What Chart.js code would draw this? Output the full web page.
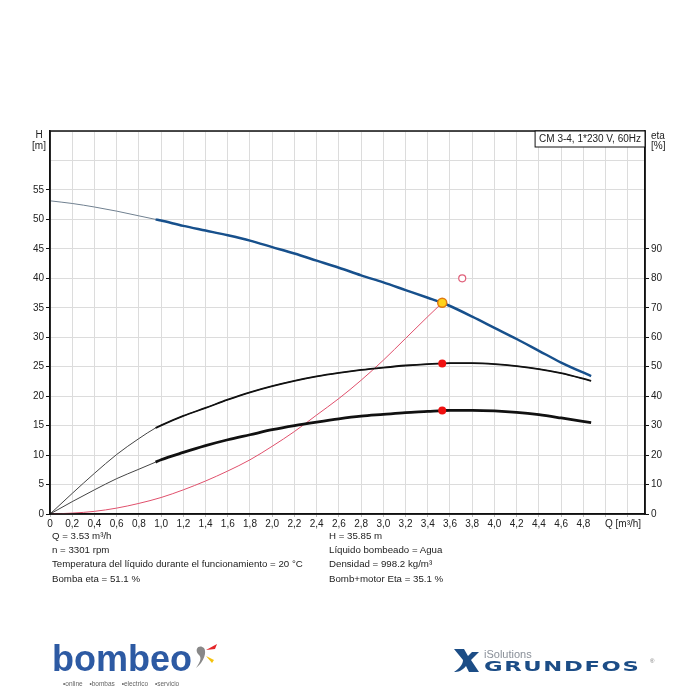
<!DOCTYPE html>
<html>
<head>
<meta charset="utf-8">
<script src="https://cdn.jsdelivr.net/npm/chart.js@4/dist/chart.umd.min.js"></script>
<style>
  body { margin: 0; background: #fff; font-family: "Liberation Sans", Arial, sans-serif; }
  #wrap { position: relative; width: 700px; height: 700px; }
  #chart { position: absolute; left: 0; top: 0; }
  .info { position: absolute; top: 529px; font-size: 9.7px; line-height: 14.2px; color: #222; white-space: nowrap; }
  .bombeo { position: absolute; left: 52px; top: 638px; font-size: 36px; font-weight: bold; color: #2d5aa3; letter-spacing: 0px; }
  .tag { position: absolute; left: 63px; top: 680px; font-size: 6.5px; color: #666; word-spacing: 5px; }
  .isol { position: absolute; left: 484px; top: 648px; font-size: 11px; color: #8a9099; }
  .gf { position: absolute; left: 484px; top: 658px; font-family: "DejaVu Sans", sans-serif; font-weight: bold; font-size: 14px; color: #1c4d86; transform: scaleX(1.62); transform-origin: left top; letter-spacing: 1px; }
  .reg { position: absolute; left: 650px; top: 658px; font-size: 6px; color: #777; }
</style>
</head>
<body>
<div id="wrap">
  <canvas id="chart" width="700" height="700"></canvas>
  <div class="info" style="left:52px">Q = 3.53 m³/h<br>n = 3301 rpm<br>Temperatura del líquido durante el funcionamiento = 20 °C<br>Bomba eta = 51.1 %</div>
  <div class="info" style="left:329px">H = 35.85 m<br>Líquido bombeado = Agua<br>Densidad = 998.2 kg/m³<br>Bomb+motor Eta = 35.1 %</div>
  <div class="bombeo">bombeo</div>
  <svg style="position:absolute;left:190px;top:642px" width="34" height="34">
    <path d="M8 12 C4 6 10 2 14 6 C17 10 14 20 6 26 C11 19 12 15 8 12 Z" fill="#888"/>
    <path d="M16 8 L27 2 L25 7 Z" fill="#e4262a"/>
    <path d="M16 14 L24 18 L22 21 Z" fill="#f4c20d"/>
  </svg>
  <div class="tag">•online •bombas •electrico •servicio</div>
  <svg style="position:absolute;left:452px;top:647px" width="30" height="28">
    <path d="M2 2 L12 2 L16 9 L20 5 L27 5 L19 13 L27 25 L17 25 L14 19 C10 24 6 25 2 25 C8 21 11 17 11 13 Z" fill="#1c4d86"/>
  </svg>
  <div class="isol">iSolutions</div>
  <div class="gf">GRUNDFOS</div>
  <div class="reg">®</div>
</div>
<script>
// pump curve Q [m3/h]
const pumpQ = [0, 0.2, 0.4, 0.6, 0.8, 0.95, 1.0, 1.2, 1.4, 1.6, 1.8, 2.0, 2.2, 2.4, 2.6, 2.8, 3.0, 3.2, 3.4, 3.53, 3.6, 3.8, 4.0, 4.2, 4.4, 4.6, 4.87];
// head H [m]
const headH = [53.15, 52.7, 52.1, 51.4, 50.6, 50.0, 49.8, 48.9, 48.1, 47.3, 46.4, 45.3, 44.2, 43.0, 41.8, 40.5, 39.3, 38.0, 36.7, 35.85, 35.3, 33.5, 31.6, 29.7, 27.7, 25.7, 23.4];
// pump eta [%]
const pumpEta = [0, 7.0, 13.8, 20.2, 25.6, 29.2, 30.1, 33.3, 36.0, 38.8, 41.3, 43.4, 45.2, 46.7, 47.9, 48.9, 49.7, 50.4, 50.9, 51.1, 51.2, 51.2, 50.9, 50.2, 49.2, 47.8, 45.2];
// pump+motor eta [%]
const totalEta = [0, 4.2, 8.2, 12.0, 15.2, 17.6, 18.4, 20.9, 23.2, 25.2, 26.9, 28.6, 30.0, 31.2, 32.3, 33.2, 33.8, 34.4, 34.8, 35.1, 35.2, 35.2, 35.0, 34.5, 33.7, 32.6, 31.0];
// system curve
const systemQ = [0, 0.2, 0.4, 0.6, 0.8, 1.0, 1.2, 1.4, 1.6, 1.8, 2.0, 2.2, 2.4, 2.6, 2.8, 3.0, 3.2, 3.4, 3.53];
const systemH = [0, 0.15, 0.45, 1.0, 1.8, 2.8, 4.1, 5.6, 7.3, 9.2, 11.5, 14.0, 16.8, 19.6, 22.7, 26.1, 29.8, 33.5, 35.85];
// duty points
const opQ = 3.53, opH = 35.85, opPumpEta = 51.1, opTotalEta = 35.1;
const reqQ = 3.71, reqH = 40.0;

const qLimit = 0.95; // curves are drawn thin below this flow
const xTicks = [0, 0.2, 0.4, 0.6, 0.8, 1.0, 1.2, 1.4, 1.6, 1.8, 2.0, 2.2, 2.4, 2.6, 2.8, 3.0, 3.2, 3.4, 3.6, 3.8, 4.0, 4.2, 4.4, 4.6, 4.8, 5.0, 5.2];
const hTicks = [0, 5, 10, 15, 20, 25, 30, 35, 40, 45, 50, 55];
const etaTicks = [0, 10, 20, 30, 40, 50, 60, 70, 80, 90, 100, 110, 120, 130];

function pts(xs, ys) {
  return xs.map((x, i) => ({ x: x, y: ys[i] }));
}
function thick(xs, ys) {
  return pts(xs, ys).filter(p => p.x >= qLimit);
}

const font = { family: 'Liberation Sans', size: 10 };

function line(data, color, width, axis) {
  return {
    data: data, borderColor: color, borderWidth: width, yAxisID: axis,
    pointRadius: 0, fill: false, cubicInterpolationMode: 'monotone'
  };
}

const frame = {
  id: 'frame',
  afterDraw(c) {
    const a = c.chartArea, ctx = c.ctx;
    ctx.save();
    ctx.strokeStyle = '#111';
    ctx.lineWidth = 1.5;
    ctx.strokeRect(a.left, a.top, a.right - a.left, a.bottom - a.top);
    ctx.font = '10px "Liberation Sans"';
    ctx.fillStyle = '#222';
    ctx.textAlign = 'center';
    ctx.textBaseline = 'middle';
    ctx.fillText('H', a.left - 11, a.top + 4);
    ctx.fillText('[m]', a.left - 11, a.top + 15);
    ctx.textAlign = 'left';
    ctx.fillText('eta', a.right + 6, a.top + 5);
    ctx.fillText('[%]', a.right + 6, a.top + 15);
    ctx.fillText('Q [m³/h]', a.right - 40, a.bottom + 10);
    // title box
    const t = 'CM 3-4, 1*230 V, 60Hz';
    const w = ctx.measureText(t).width + 8;
    ctx.fillStyle = '#fff';
    ctx.fillRect(a.right - w, a.top, w, 16);
    ctx.lineWidth = 1;
    ctx.strokeRect(a.right - w, a.top, w, 16);
    ctx.fillStyle = '#222';
    ctx.fillText(t, a.right - w + 4, a.top + 8);
    ctx.restore();
  }
};

new Chart(document.getElementById('chart'), {
  type: 'line',
  data: {
    datasets: [
      { data: [{ x: reqQ, y: reqH }], yAxisID: 'y', showLine: false, pointRadius: 3.5, pointBackgroundColor: '#fff', pointBorderColor: '#e0607a', pointBorderWidth: 1.2 },
      { data: [{ x: opQ, y: opH }], yAxisID: 'y', showLine: false, pointRadius: 4.5, pointBackgroundColor: '#ffd21a', pointBorderColor: '#e07a10', pointBorderWidth: 1.5 },
      { data: [{ x: opQ, y: opPumpEta }, { x: opQ, y: opTotalEta }], yAxisID: 'y2', showLine: false, pointRadius: 4, pointBackgroundColor: '#f01010', pointBorderColor: '#f01010', pointBorderWidth: 0 },
      line(thick(pumpQ, headH), '#17508c', 2.5, 'y'),
      line(thick(pumpQ, pumpEta), '#111', 1.8, 'y2'),
      line(thick(pumpQ, totalEta), '#111', 2.8, 'y2'),
      line(pts(pumpQ, headH), '#708090', 1, 'y'),
      line(pts(pumpQ, pumpEta), '#444', 1, 'y2'),
      line(pts(pumpQ, totalEta), '#444', 1, 'y2'),
      line(pts(systemQ, systemH), '#e0506c', 1, 'y')
    ]
  },
  options: {
    responsive: false,
    animation: false,
    layout: { padding: { top: 131, bottom: 166, left: 0, right: 0 } },
    plugins: { legend: { display: false }, tooltip: { enabled: false } },
    scales: {
      x: {
        type: 'linear', min: 0, max: 5.355,
        afterBuildTicks: s => { s.ticks = xTicks.map(v => ({ value: v })); },
        afterFit: s => { s.height = 20; },
        ticks: {
          font: font, color: '#222', padding: 1, maxRotation: 0, autoSkip: false,
          callback: v => v > 4.85 ? '' : (v === 0 ? '0' : v.toFixed(1).replace('.', ','))
        },
        grid: { color: '#dcdcdc', lineWidth: 1, tickLength: 3, tickColor: '#bbb' },
        border: { color: '#111', width: 1.5 }
      },
      y: {
        position: 'left', min: 0, max: 65,
        afterBuildTicks: s => { s.ticks = hTicks.map(v => ({ value: v })); },
        afterFit: s => { s.width = 50; },
        ticks: { font: font, color: '#222', padding: 2 },
        grid: { drawOnChartArea: false, tickLength: 4, tickColor: '#111' },
        border: { color: '#111', width: 1.5 }
      },
      y2: {
        position: 'right', min: 0, max: 130,
        afterBuildTicks: s => { s.ticks = etaTicks.map(v => ({ value: v })); },
        afterFit: s => { s.width = 55; },
        ticks: { font: font, color: '#222', padding: 2, callback: v => v > 90 ? '' : v },
        grid: {
          color: '#dcdcdc', lineWidth: 1, tickLength: 4,
          tickColor: c => (c.tick && c.tick.value > 90) ? 'rgba(0,0,0,0)' : '#111'
        },
        border: { color: '#111', width: 1.5 }
      }
    }
  },
  plugins: [frame]
});
</script>
</body>
</html>
